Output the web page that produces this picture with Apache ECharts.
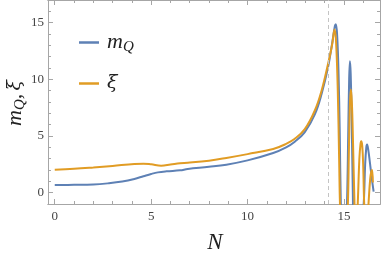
<!DOCTYPE html>
<html>
<head>
<meta charset="utf-8">
<script src="https://cdn.jsdelivr.net/npm/echarts@6/dist/echarts.min.js"></script>
<style>html,body{margin:0;padding:0;background:#fff}#c{width:382px;height:260px}</style>
</head>
<body>
<div id="c"></div>
<script>
// ---- data ----
var nMQ = [0,1,2,2.75,3.5,4.13,4.6,5.0,5.35,5.8,6.5,6.9,8,8.9,10,11.33,12,12.45,12.97,13.49,13.84,14.18,14.39,14.53,14.58,14.65,14.72,14.78,14.84,14.92,15.0,15.08,15.16,15.22,15.27,15.31,15.35,15.4,15.46,15.52,15.7,15.9,16.03,16.1,16.16,16.2,16.26,16.35,16.45,16.54];
var mQ  = [0.68,0.69,0.72,0.82,0.98,1.21,1.45,1.65,1.79,1.88,1.97,2.09,2.28,2.47,2.85,3.5,4.0,4.5,5.35,6.9,8.7,11.1,13.2,14.7,14.85,13.8,10.5,5.5,-1.2,-5,-6,-4,-0.8,5,10,11.6,10.5,6.5,0,-4,-6,-3.5,-0.8,2.5,4.0,4.24,3.8,2.6,1.2,0.1];
var nXi = [0,1,2,3,4.13,4.6,5.0,5.52,6.0,6.5,6.9,8,8.9,10,11.33,12,12.45,12.97,13.49,13.84,14.18,14.39,14.47,14.52,14.6,14.68,14.75,14.8,14.9,15.0,15.1,15.2,15.26,15.31,15.36,15.41,15.47,15.54,15.6,15.66,15.72,15.8,15.86,15.9,15.95,16.0,16.05,16.12,16.2,16.28,16.36,16.42,16.46,16.5];
var xi  = [2.03,2.1,2.22,2.36,2.53,2.56,2.5,2.38,2.48,2.6,2.64,2.82,3.06,3.4,3.85,4.3,4.75,5.6,7.25,9.0,11.4,13.1,14.1,14.4,13.0,9,3,-1.3,-5,-6,-4,-1.2,4,7.8,9.1,8,4.5,-0.5,-3,-3,-0.8,3,4.3,4.53,4.1,2.3,-1,-3,-3,-0.8,1.2,1.9,2.0,0.9];
var xMajor = [0,5,10,15];
var xMinor = [1,2,3,4,6,7,8,9,11,12,13,14,16];
var yMajor = [0,5,10,15];
var yMinor = [-1,1,2,3,4,6,7,8,9,11,12,13,14,16,17];
var dashedAt = 14.18;

function pairs(xs, ys){ return xs.map(function(x,i){ return [x, ys[i]]; }); }

var frameColor = '#a6a6a6';
var X0 = -0.35, X1 = 16.87, Y0 = -1, Y1 = 17;

function xAx(pos, vals, len, labels){
  return {type:'value', position:pos, min:X0, max:X1, gridIndex:0,
    axisLine:{show:true, onZero:false, lineStyle:{color:frameColor, width:1}},
    axisTick:{show:true, inside:true, length:len, customValues:vals, lineStyle:{color:frameColor}},
    axisLabel:labels ? {show:true, customValues:vals, margin:6, color:'#444', fontFamily:'Liberation Serif', fontSize:13} : {show:false},
    splitLine:{show:false}};
}
function yAx(pos, vals, len, labels){
  return {type:'value', position:pos, min:Y0, max:Y1, gridIndex:0,
    axisLine:{show:true, onZero:false, lineStyle:{color:frameColor, width:1}},
    axisTick:{show:true, inside:true, length:len, customValues:vals, lineStyle:{color:frameColor}},
    axisLabel:labels ? {show:true, customValues:vals, margin:4, color:'#444', fontFamily:'Liberation Serif', fontSize:13} : {show:false},
    splitLine:{show:false}};
}

var chart = echarts.init(document.getElementById('c'), null, {renderer:'canvas'});
chart.setOption({
  animation:false,
  backgroundColor:'#fff',
  grid:{left:48, right:2, top:0, bottom:56, containLabel:false},
  xAxis:[xAx('bottom', xMajor, 5, true), xAx('bottom', xMinor, 3, false), xAx('top', xMajor, 5, false), xAx('top', xMinor, 3, false)],
  yAxis:[yAx('left', yMajor, 5, true), yAx('left', yMinor, 3, false), yAx('right', yMajor, 5, false), yAx('right', yMinor, 3, false)],
  legend:{
    orient:'vertical', left:79, top:30, itemGap:19, padding:0,
    icon:'rect', itemWidth:20, itemHeight:2.5,
    data:['mQ','ξ'],
    formatter:function(n){ return n==='mQ' ? '{m|m}{q|Q}' : '{x|ξ}'; },
    textStyle:{padding:[0,0,0,3], rich:{
      m:{fontFamily:'Liberation Serif', fontStyle:'italic', fontSize:22, color:'#222', lineHeight:22},
      x:{fontFamily:'DejaVu Serif', fontStyle:'italic', fontSize:19, color:'#222', lineHeight:22},
      q:{fontFamily:'Liberation Serif', fontStyle:'italic', fontSize:15, color:'#222', padding:[10,0,0,0], lineHeight:22}
    }}
  },
  graphic:[
    {type:'text', x:15, y:103, rotation:Math.PI/2,
     style:{text:'{m|m}{q|Q}{m|,} {x|ξ}', align:'center', verticalAlign:'middle',
       rich:{m:{fontFamily:'Liberation Serif', fontStyle:'italic', fontSize:22, fill:'#222'},
             x:{fontFamily:'DejaVu Serif', fontStyle:'italic', fontSize:19, fill:'#222'},
             q:{fontFamily:'Liberation Serif', fontStyle:'italic', fontSize:15, fill:'#222', padding:[10,0,0,0]}}}},
    {type:'text', x:215, y:243,
     style:{text:'N', align:'center', verticalAlign:'middle', fontFamily:'Liberation Serif', fontStyle:'italic', fontSize:23, fill:'#222'}}
  ],
  series:[
    {name:'mQ', type:'line', xAxisIndex:0, yAxisIndex:0, data:pairs(nMQ, mQ), showSymbol:false, symbol:'none',
     smooth:0.4, clip:true, color:'#5e81b5', lineStyle:{width:2, color:'#5e81b5'},
     markLine:{silent:true, symbol:'none', label:{show:false}, lineStyle:{color:'#c4c4c4', type:[4,3], width:1},
       data:[{xAxis:dashedAt}]}},
    {name:'ξ', type:'line', xAxisIndex:0, yAxisIndex:0, data:pairs(nXi, xi), showSymbol:false, symbol:'none',
     smooth:0.4, clip:true, color:'#e19c24', lineStyle:{width:2, color:'#e19c24'}}
  ]
});
</script>
</body>
</html>
